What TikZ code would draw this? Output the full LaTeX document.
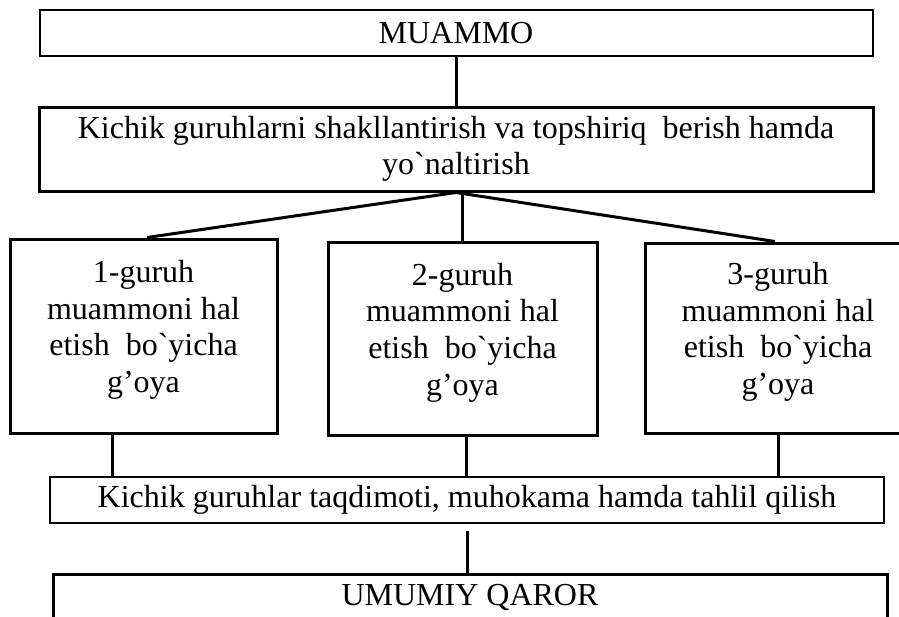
\documentclass[tikz,border=0pt]{standalone}
\usepackage{fontspec}
\newfontfamily\tnr{Liberation Serif}
\newcommand\gdepthfix{\rule[-19pt]{0pt}{19pt}}
\begin{document}
\begin{tikzpicture}[x=1pt,y=-1pt,
  every node/.style={font=\tnr\fontsize{32}{36.6}\selectfont},
  thinbox/.style={draw, line width=2pt, inner sep=0pt},
  thickbox/.style={draw, line width=3pt, inner sep=0pt},
  link/.style={line width=3pt}]
\path[use as bounding box, clip] (0,0) rectangle (899,616);
\fill[white] (0,0) rectangle (899,616);
\node[thinbox, minimum width=833pt, minimum height=46pt] (m) at (456,33) {MUAMMO};
\node[thickbox, minimum width=834pt, minimum height=84pt, align=center] (k) at (456,149)
  {Kichik guruhlarni shakllantirish va topshiriq\ \ berish hamda\\yo`naltirish};
\node[thickbox, minimum width=267pt, minimum height=194pt, align=center] (g1) at (143.5,336)
  {1-guruh\\muammoni hal\\etish\ \ bo`yicha\\g’oya\gdepthfix};
\node[thickbox, minimum width=269pt, minimum height=193pt, align=center] (g2) at (462.5,338.5)
  {2-guruh\\muammoni hal\\etish\ \ bo`yicha\\g’oya\gdepthfix};
\node[thickbox, minimum width=266pt, minimum height=190pt, align=center] (g3) at (778,338)
  {3-guruh\\muammoni hal\\etish\ \ bo`yicha\\g’oya\gdepthfix};
\node[thinbox, minimum width=834pt, minimum height=46pt] (t) at (467,500)
  {Kichik guruhlar taqdimoti, muhokama hamda tahlil qilish};
\node[thickbox, minimum width=834pt, minimum height=46pt] (u) at (470,597)
  {UMUMIY QAROR};
\draw[link] (m.south) -- (k.north);
\draw[link] (k.south) -- ([xshift=3.5pt]g1.north);
\draw[link] (g2.north |- k.south) -- (g2.north);
\draw[link] (k.south) -- ([xshift=-3pt]g3.north);
\draw[link] ([xshift=-31.5pt]g1.south) -- ([xshift=-31.5pt]g1.south |- t.north);
\draw[link] ([xshift=3.5pt]g2.south) -- ([xshift=3.5pt]g2.south |- t.north);
\draw[link] (g3.south) -- (g3.south |- t.north);
\draw[link] ([yshift=-7pt]t.south) -- (t.south |- u.north);
\end{tikzpicture}
\end{document}
